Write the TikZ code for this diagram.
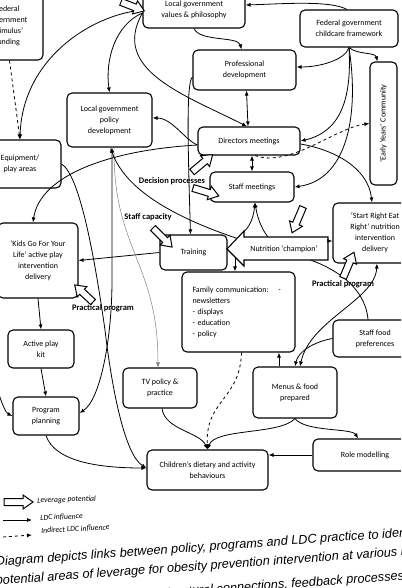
\documentclass[tikz,border=0pt]{standalone}
\usepackage{fontspec}
\setmainfont{Carlito}
\newfontfamily\capfont{Liberation Sans}
\usepackage{graphicx}
\usetikzlibrary{arrows.meta}
\tikzset{
  box/.style={draw, line width=1.1pt, rounded corners=5pt, align=center, font=\fontsize{8}{11}\selectfont, inner sep=1pt},
  wh/.style 2 args={minimum width=#1pt, minimum height=#2pt},
  con/.style={line width=0.8pt, -{Latex[length=5pt,width=4pt]}},
  rcon/.style={line width=0.8pt, {Latex[length=5pt,width=4pt]}-},
  dcon/.style={line width=0.8pt, {Latex[length=5pt,width=4pt]}-{Latex[length=5pt,width=4pt]}},
  lbl/.style={font=\bfseries\fontsize{8.5}{10}\selectfont, inner sep=0pt},
  leg/.style={font=\itshape\fontsize{7.8}{9}\selectfont, inner sep=0pt},
  captext/.style={font=\capfont\itshape\fontsize{12.7}{14}\selectfont, inner sep=0pt},
  pics/levarr/.style={code={\draw[line width=1pt, fill=white] (0,-3.5) -- ({#1-10},-3.5) -- ({#1-10},-7) -- (#1,0) -- ({#1-10},7) -- ({#1-10},3.5) -- (0,3.5) -- cycle;}}
}
\begin{document}
\begin{tikzpicture}[x=1pt,y=-1pt]
\fill[white] (0,0) rectangle (401,588);
\useasboundingbox (0,0) rectangle (401,588);
\clip (0,0) rectangle (401,588);

% boxes
\node[box, wh={71}{68}] (fedfund) at (7.5,26) {Federal\\government\\‘stimulus’\\funding};
\node[box, wh={102}{36}] (values) at (194,10) {Local government\\values \& philosophy};
\node[box, wh={98}{37}] (fedcare) at (349,28.5) {Federal government\\childcare framework};
\node[box, wh={103}{40}] (profdev) at (244.5,70) {Professional\\development};
\node[box, wh={27}{123}] (early) at (383.5,123.5) {\rotatebox{90}{‘Early Years’ Community}};
\node[box, wh={85}{54}] (policy) at (109.5,120) {Local government\\policy\\development};
\node[box, wh={102}{28}] (directors) at (249,141) {Directors meetings};
\node[box, wh={84}{30}] (staffm) at (252,187) {Staff meetings};
\node[box, wh={82}{48}] (equip) at (20,164) {Equipment/\\play areas};
\node[box, wh={80}{75}] (kids) at (38,260.5) {‘Kids Go For Your\\Life’ active play\\intervention\\delivery};
\node[box, wh={67}{35}] (training) at (193.5,252.5) {Training};
\node[box, wh={84}{60}] (startright) at (375,233) {‘Start Right Eat\\Right’ nutrition\\intervention\\delivery};
\node[box, wh={113}{80}, text width=92pt, align=left] (family) at (238.5,312) {Family communication:\hspace{1.2em}-\\newsletters\\- displays\\- education\\- policy};
\node[box, wh={84}{37}] (stafffood) at (375,338.5) {Staff food\\preferences};
\node[box, wh={66}{38}] (activekit) at (41,349) {Active play\\kit};
\node[box, wh={74}{40}] (tv) at (160,388) {TV policy \&\\practice};
\node[box, wh={84}{51}] (menus) at (295,392.5) {Menus \& food\\prepared};
\node[box, wh={66}{38}] (progplan) at (46,416) {Program\\planning};
\node[box, wh={121}{40}] (children) at (207.5,470) {Children’s dietary and activity\\behaviours};
\node[box, wh={104}{32}] (role) at (365,455) {Role modelling};

\coordinate (champR) at (328,241);
\coordinate (champB) at (235,257);
\coordinate (champTL) at (241,234);
\coordinate (champTR) at (268,237);
\coordinate (offl) at (-4,385);

% connectors
\draw[con] (values.west) .. controls (90,15) and (22,60) .. (equip.north);
\draw[con, dashed] ([xshift=2pt]fedfund.south) -- (equip.north);
\draw[con] ([yshift=-3pt]values.west) .. controls (115,25) and (105,60) .. (policy.north);
\draw[con] ([yshift=-3pt]values.west) .. controls (110,70) and (185,95) .. ([xshift=-2pt]directors.north);
\draw[con] (values.south) .. controls (200,42) and (238,36) .. ([xshift=-3pt]profdev.north);
\draw[con] ([xshift=-2pt]fedcare.north) .. controls (330,0) and (280,4) .. ([yshift=5pt]values.east);
\draw[con] (fedcare.south) .. controls (345,60) and (320,67) .. ([yshift=3pt]profdev.east);
\draw[con] (fedcare.south) .. controls (358,55) and (375,52) .. ([xshift=-6pt]early.north);
\draw[con] (fedcare.south) .. controls (352,100) and (340,132) .. (directors.east);
\draw[con] (fedcare.south) .. controls (360,120) and (345,180) .. (staffm.east);
\draw[con] ([yshift=-3pt]directors.east) .. controls (335,150) and (368,168) .. ([xshift=-3pt]startright.north);
\draw[con, dashed] ([xshift=6pt]directors.south) .. controls (290,168) and (335,128) .. (early.west);
\draw[dcon] ([xshift=2pt]profdev.south) -- ([xshift=-1pt]directors.north);
\draw[dcon] ([xshift=3pt]directors.south) -- (staffm.north);
\draw[con] ([yshift=-4pt]directors.west) .. controls (185,140) and (172,118) .. ([yshift=2pt]policy.east);
\draw[con] ([yshift=-4pt]directors.west) .. controls (110,150) and (40,175) .. ([xshift=-5pt]kids.north);
\draw[con] ([yshift=-7pt]profdev.west) .. controls (186,82) and (188,150) .. ([xshift=-3pt]training.north);
\draw[con] (training.west) -- (kids.east);
\draw[con] (kids.south) -- (activekit.north);
\draw[con] (activekit.south) -- (progplan.north);
\draw[con] (offl) .. controls (2,405) and (6,413) .. (progplan.west);
\draw[con] (progplan.south) .. controls (55,462) and (100,468) .. ([yshift=2pt]children.west);
\draw[con] (equip.east) .. controls (80,175) and (95,260) .. (105,330) .. controls (112,390) and (125,455) .. ([yshift=2pt]children.west);
\draw[dcon] ([xshift=2.5pt]policy.south) -- (112,280) .. controls (112,340) and (100,400) .. ([yshift=3pt]progplan.east);
\draw[con, gray, line width=0.5pt] ([xshift=4.5pt]policy.south) .. controls (113,250) and (158,262) .. ([xshift=-2pt]tv.north);
\draw[con] ([xshift=-7pt]stafffood.north) .. controls (365,285) and (330,262) .. (285,253) .. controls (220,235) and (130,205) .. ([xshift=1pt]policy.south);
\draw[rcon] ([xshift=3pt]staffm.south) .. controls (253,222) and (247,230) .. (champTL);
\draw[rcon] ([xshift=3pt]staffm.south) .. controls (258,222) and (264,232) .. (champTR);
\draw[con] (stafffood.west) .. controls (313,342) and (298,352) .. (menus.north);
\draw[dcon] ([xshift=2pt]startright.south) .. controls (375,300) and (310,320) .. ([xshift=5pt]menus.north);
\draw[con] ([xshift=-16pt]menus.north) -- ([xshift=-16pt]menus.north |- family.south);
\draw[con] ([xshift=2pt]tv.south) .. controls (165,430) and (200,432) .. (children.north);
\draw[con, dashed] ([xshift=3pt]family.south) .. controls (240,400) and (205,400) .. (children.north);
\draw[con] (menus.south) .. controls (280,435) and (215,428) .. (children.north);
\draw[con] (menus.south) .. controls (305,432) and (352,428) .. ([xshift=-7pt]role.north);
\draw[con] (role.west) -- (role.west -| children.east);

% nutrition champion block arrow
\draw[line width=1.1pt, fill=white] (328,237) -- (244,237) -- (244,231) -- (227,249) -- (244,266) -- (244,260) -- (328,260) -- cycle;
\node[font=\fontsize{8}{10}\selectfont, inner sep=0pt] (champ) at (284,249) {Nutrition ‘champion’};
\draw[con] (champR) -- (champR -| startright.west);
\draw[con] (champB) -- (champB |- family.north);

% leverage arrows
\pic[rotate=-21] at (121,2) {levarr=25};
\pic[rotate=40] at (192,172) {levarr=27};
\pic[rotate=-17] at (193,188) {levarr=27};
\pic[rotate=-45] at (153,228) {levarr=27};
\pic[rotate=-113] at (303,207) {levarr=28};
\pic[rotate=67] at (343,278) {levarr=28};
\pic[rotate=137] at (93,302) {levarr=25};

% labels
\node[lbl] (dp) at (172,181) {Decision processes};
\node[lbl] (sc) at (148,217) {Staff capacity};
\node[lbl] (pp1) at (103,308) {Practical program};
\node[lbl] (pp2) at (343,284) {Practical program};

% legend
\pic at (4,502) {levarr=29};
\node[leg, anchor=west, rotate=2] (legl) at (37,501) {Leverage potential};
\coordinate (l1a) at (3,520);
\coordinate (l1b) at (32,520);
\draw[con] (l1a) -- (l1b);
\node[leg, anchor=west, rotate=2] (legi) at (40,518) {LDC influence};
\coordinate (l2a) at (3,537);
\coordinate (l2b) at (32,535);
\draw[con, dashed] (l2a) -- (l2b);
\node[leg, anchor=west, rotate=3] (legd) at (41,531) {Indirect LDC influence};

% caption
\node[captext, anchor=base west, rotate=4.1] (cap1) at (-4,566) {Diagram depicts links between policy, programs and LDC practice to identify};
\node[captext, anchor=base west, rotate=4.1] (cap2) at (-4,585) {potential areas of leverage for obesity prevention intervention at various levels};
\node[captext, anchor=base west, rotate=4.1] (cap3) at (-4,609) {different levels: actors/goals, structural connections, feedback processes};
\end{tikzpicture}
\end{document}
